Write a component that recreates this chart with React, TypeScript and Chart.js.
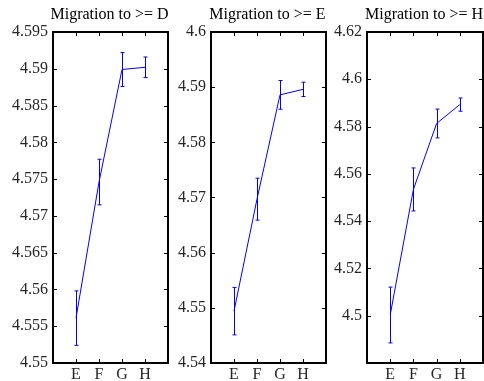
import React, { useEffect, useRef } from 'react';
import { Chart, registerables } from 'chart.js';

Chart.register(...registerables);

// ---- data ----
const categories = ['E', 'F', 'G', 'H'];
const titles = ['Migration to >= D', 'Migration to >= E', 'Migration to >= H'];

const meanD = [4.5561, 4.5746, 4.5899, 4.5902];
const errD = [0.0037, 0.0031, 0.0023, 0.0014];

const meanE = [4.5494, 4.5697, 4.5886, 4.5896];
const errE = [0.0043, 0.0038, 0.0026, 0.0013];

const meanH = [4.5003, 4.5534, 4.5813, 4.5893];
const errH = [0.0118, 0.0091, 0.0061, 0.0028];

const yRangeD = [4.55, 4.595, 0.005];
const yRangeE = [4.54, 4.6, 0.01];
const yRangeH = [4.48, 4.62, 0.02];
const hiddenTickH = [4.48];

// ---- layout (not data) ----
const layouts = [
  { left: 0, width: 170, axisW: 53, padRight: 2 },
  { left: 170, width: 160, axisW: 41, padRight: 4 },
  { left: 330, width: 154, axisW: 37, padRight: 1 },
];

const panels = [
  { title: titles[0], mean: meanD, err: errD, range: yRangeD, hidden: [] as number[] },
  { title: titles[1], mean: meanE, err: errE, range: yRangeE, hidden: [] as number[] },
  { title: titles[2], mean: meanH, err: errH, range: yRangeH, hidden: hiddenTickH },
];

const FONT_FAMILY = '"Liberation Serif", "Times New Roman", serif';
const TEXT_COLOR = '#262626';

function fmt(v: number) {
  return String(Number(v.toFixed(4)));
}

function makeDecorPlugin(title: string, mean: number[], err: number[]) {
  return {
    id: 'decor',
    afterDatasetsDraw(chart: any) {
      const { ctx, chartArea, scales } = chart;
      const xs = scales.x;
      const ys = scales.y;
      ctx.save();
      // error bars
      ctx.strokeStyle = '#0000ff';
      ctx.lineWidth = 1;
      mean.forEach((m, i) => {
        const x = Math.round(xs.getPixelForValue(i + 1)) + 0.5;
        const yt = ys.getPixelForValue(m + err[i]);
        const yb = ys.getPixelForValue(m - err[i]);
        ctx.beginPath();
        ctx.moveTo(x, yt);
        ctx.lineTo(x, yb);
        ctx.moveTo(x - 2, yt);
        ctx.lineTo(x + 2, yt);
        ctx.moveTo(x - 2, yb);
        ctx.lineTo(x + 2, yb);
        ctx.stroke();
      });
      // box
      ctx.strokeStyle = '#000000';
      ctx.lineWidth = 2;
      ctx.strokeRect(chartArea.left, chartArea.top, chartArea.right - chartArea.left, chartArea.bottom - chartArea.top);
      // inward ticks
      ctx.lineWidth = 1;
      const tl = 4;
      ctx.beginPath();
      xs.ticks.forEach((t: any) => {
        const x = Math.round(xs.getPixelForValue(t.value)) + 0.5;
        ctx.moveTo(x, chartArea.bottom);
        ctx.lineTo(x, chartArea.bottom - tl);
        ctx.moveTo(x, chartArea.top);
        ctx.lineTo(x, chartArea.top + tl);
      });
      ys.ticks.forEach((t: any) => {
        const y = Math.round(ys.getPixelForValue(t.value)) + 0.5;
        ctx.moveTo(chartArea.left, y);
        ctx.lineTo(chartArea.left + tl, y);
        ctx.moveTo(chartArea.right, y);
        ctx.lineTo(chartArea.right - tl, y);
      });
      ctx.stroke();
      // title
      ctx.fillStyle = '#000000';
      ctx.font = `16px ${FONT_FAMILY}`;
      ctx.textAlign = 'center';
      ctx.textBaseline = 'alphabetic';
      ctx.fillText(title, (chartArea.left + chartArea.right) / 2 - 1, 19);
      ctx.restore();
    },
  };
}

function Panel({ idx }: { idx: number }) {
  const ref = useRef<HTMLCanvasElement>(null);
  const lay = layouts[idx];
  useEffect(() => {
    const p = panels[idx];
    const [yMin, yMax, step] = p.range;
    const font = { family: FONT_FAMILY, size: 16 };
    const chart = new Chart(ref.current as HTMLCanvasElement, {
      type: 'line',
      data: {
        datasets: [
          {
            data: p.mean.map((m, i) => ({ x: i + 1, y: m })),
            borderColor: '#0000ff',
            borderWidth: 1,
            pointRadius: 0,
            fill: false,
            tension: 0,
          },
        ],
      },
      options: {
        animation: false,
        responsive: false,
        maintainAspectRatio: false,
        devicePixelRatio: 1,
        layout: { padding: { left: 0, right: lay.padRight, top: 32, bottom: 0 } },
        plugins: { legend: { display: false }, tooltip: { enabled: false }, title: { display: false } },
        scales: {
          x: {
            type: 'linear',
            min: 0,
            max: 5,
            afterBuildTicks: (s: any) => {
              s.ticks = categories.map((_, i) => ({ value: i + 1 }));
            },
            afterFit: (s: any) => {
              s.height = 18;
            },
            ticks: {
              callback: (v: any) => categories[Number(v) - 1] ?? '',
              font,
              color: TEXT_COLOR,
              padding: 2,
              autoSkip: false,
              maxRotation: 0,
            },
            grid: { display: false, drawTicks: false },
            border: { display: false },
          },
          y: {
            type: 'linear',
            min: yMin,
            max: yMax,
            afterBuildTicks: (s: any) => {
              const n = Math.round((yMax - yMin) / step);
              const arr: any[] = [];
              for (let k = 0; k <= n; k++) arr.push({ value: Number((yMin + k * step).toFixed(4)) });
              s.ticks = arr;
            },
            afterFit: (s: any) => {
              s.width = lay.axisW;
            },
            ticks: {
              callback: (v: any) => (p.hidden.includes(Number(Number(v).toFixed(4))) ? '' : fmt(Number(v))),
              font,
              color: TEXT_COLOR,
              padding: 5,
              autoSkip: false,
            },
            grid: { display: false, drawTicks: false },
            border: { display: false },
          },
        },
      } as any,
      plugins: [makeDecorPlugin(p.title, p.mean, p.err)],
    });
    return () => chart.destroy();
  }, [idx]);
  return (
    <canvas
      ref={ref}
      width={lay.width}
      height={381}
      style={{ position: 'absolute', left: lay.left, top: 0, width: lay.width, height: 381 }}
    />
  );
}

export default function App() {
  return (
    <div style={{ position: 'fixed', left: 0, top: 0, width: 484, height: 381, background: '#ffffff', overflow: 'hidden' }}>
      {panels.map((_, i) => (
        <Panel key={i} idx={i} />
      ))}
    </div>
  );
}
